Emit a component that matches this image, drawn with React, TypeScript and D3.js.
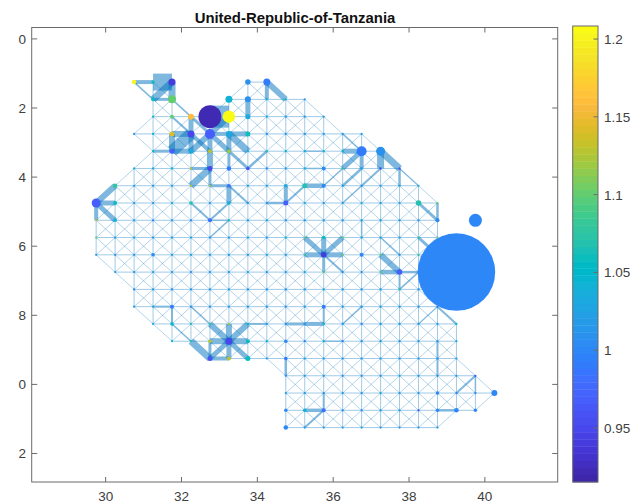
import React from "react";
import * as d3 from "d3";

const titleText = "United-Republic-of-Tanzania";
const xTicks = [30, 32, 34, 36, 38, 40];
const yTicks = [0, 2, 4, 6, 8, 10, 12];
const yTickLabels = ["0", "2", "4", "6", "8", "0", "2"];
const cbTicks = [0.95, 1, 1.05, 1.1, 1.15, 1.2];
const n = null;

const rowLats = [1.25, 1.75, 2.25, 2.75, 3.25, 3.75, 4.25, 4.75, 5.25, 5.75, 6.25, 6.75, 7.25, 7.75, 8.25, 8.75, 9.25, 9.75, 10.25, 10.75, 11.25];
const rowStarts = [30.75, 31.25, 31.25, 30.75, 31.25, 30.75, 30.25, 29.75, 29.75, 29.75, 29.75, 30.25, 30.75, 30.75, 31.25, 31.75, 32.75, 34.75, 34.75, 34.75, 34.75];
const rowValues: (number | null)[][] = [
  [1.2, 1.06, 0.94, n, n, n, 1.01, 0.99],
  [1.06, 1.1, n, n, 1.04, 1.01, 1.04, 1.05, 1.02],
  [1.06, 1.1, 1.16, 0.92, 1.21, 1.03, 1.03, 1.02, 1.02, 1.02],
  [1.01, 1.05, 1.14, 0.95, 0.97, 1.03, 1.06, 1.01, 1.02, 1.02, 1.02, 1.02, 1.02],
  [1.06, 0.97, 1.03, 1.13, 1.12, 1.04, 1.07, 1.05, 1.04, 1.04, 1.05, 0.99, 1.01],
  [1.04, 1.03, 1.05, 1.13, 0.95, 0.99, 0.96, 1.0, 1.02, 1.04, 1.0, 1.08, 1.02, 0.95, 0.96],
  [1.08, 1.02, 1.02, 1.02, 1.13, 1.13, 0.98, 1.02, 1.02, 1.03, 1.07, 1.0, 1.02, 1.02, 1.02, 1.02, 1.03],
  [0.97, 1.06, 1.02, 1.02, 1.04, 1.07, 1.02, 1.04, 1.02, 1.01, 0.97, 1.03, 1.02, 1.02, 1.03, 1.02, 1.03, 1.07, 1.1],
  [1.13, 1.04, 1.02, 1.0, 1.02, 1.0, 0.98, 1.06, 1.02, 1.03, 1.02, 1.02, 1.02, 1.02, 1.02, 1.02, 1.02, 1.01, 1.0, n, 1.0],
  [1.1, 1.02, 1.03, 1.02, 1.02, 1.03, 1.02, 1.02, 1.03, 1.02, 1.05, 1.1, 1.06, 1.1, 1.03, 1.03, 1.03, 1.08, 1.1],
  [1.02, 1.01, 1.02, 1.0, 1.02, 1.03, 1.02, 1.02, 1.02, 1.03, 1.02, 1.08, 0.94, 1.1, 1.0, 1.1, 1.02, 1.08, 1.0, 1.0],
  [1.02, 1.02, 1.03, 1.02, 1.01, 1.02, 1.02, 1.03, 1.02, 1.02, 1.03, 1.1, 1.02, 1.02, 1.1, 0.97, 1.02, 1.0, 1.0],
  [1.0, 1.02, 1.01, 1.02, 1.02, 1.03, 1.02, 1.02, 1.01, 1.02, 1.03, 1.02, 1.02, 1.02, 1.08, 1.02, 1.02, 1.0],
  [1.02, 1.03, 0.99, 1.02, 1.02, 1.02, 1.02, 1.02, 1.01, 1.02, 0.99, 1.02, 1.02, 1.02, 1.02, 1.02, 1.0],
  [1.03, 1.05, 1.07, 1.08, 1.12, 1.06, 1.02, 1.01, 1.01, 1.06, 1.02, 1.0, 1.02, 1.02, 1.02, 1.02, 1.06],
  [1.05, 1.07, 1.13, 0.95, 1.06, 1.05, 1.0, 1.0, 1.04, 1.0, 1.02, 1.02, 1.02, 1.02, 1.02, 1.03],
  [0.96, 1.13, 1.06, 1.02, 0.99, 1.02, 1.02, 1.02, 1.02, 1.02, 1.02, 1.02, 1.01, 1.02],
  [1.0, 1.02, 1.02, 1.02, 1.02, 1.02, 1.03, 1.02, 1.02, 1.02, 0.97],
  [1.02, 1.02, 1.01, 1.02, 1.02, 1.03, 1.02, 1.02, 1.0, 1.0, 1.0, 1.0],
  [1.0, 1.04, 0.98, 1.0, 1.0, 1.02, 1.02, 0.96, 1.0, 1.0, 1.0],
  [1.0, 1.02, 1.02, 1.02, 1.03, 1.02, 1.02, 1.02, 1.02],
];

// [lon, lat, marker diameter] for every node larger than the base size
const nodeSizes: [number, number, number][] = [
  [32.75, 2.25, 23], [33.25, 2.25, 12.5], [39.25, 6.75, 77.5], [39.75, 5.25, 13], [32.75, 2.75, 10], [32.25, 2.75, 7],
  [31.75, 1.25, 7], [31.75, 1.75, 8], [30.75, 1.25, 4.5], [32.25, 2.25, 6], [33.25, 1.75, 7], [33.75, 1.25, 5.5],
  [34.25, 1.25, 7], [33.75, 1.75, 6], [33.75, 2.25, 5], [33.75, 2.75, 5], [33.25, 2.75, 6], [31.75, 2.75, 5],
  [31.75, 3.25, 5], [32.25, 3.25, 5], [32.75, 3.25, 4], [33.25, 3.25, 4], [32.75, 3.75, 5], [33.25, 3.75, 4.5],
  [33.75, 3.75, 3.5], [31.75, 2.25, 4], [31.25, 1.75, 4], [31.25, 1.25, 3.5], [30.25, 4.25, 4.5], [29.75, 4.75, 9],
  [30.25, 4.75, 4], [30.25, 5.25, 3.5], [32.25, 4.75, 3.5], [32.75, 5.25, 4], [33.25, 4.75, 3.5], [33.25, 4.25, 3.5],
  [34.75, 4.75, 5], [35.25, 4.25, 5], [35.75, 4.25, 4], [34.75, 4.25, 3.5], [36.75, 3.25, 10], [37.25, 3.25, 9],
  [38.25, 4.75, 5.5], [38.75, 5.25, 4], [35.75, 3.75, 4], [35.75, 6.25, 5.5], [37.75, 6.75, 5.5], [36.75, 6.25, 4],
  [35.75, 7.75, 4], [33.25, 8.75, 7], [32.75, 9.25, 5], [33.25, 9.25, 4], [33.75, 9.25, 5], [33.75, 8.75, 4],
  [32.75, 8.75, 3.5], [31.75, 7.75, 4], [31.75, 8.25, 3.5], [40.25, 10.25, 6], [38.75, 10.75, 3.5], [39.25, 10.75, 4.5],
  [39.75, 10.75, 3.5], [34.75, 11.25, 4.5], [35.75, 10.75, 4], [34.75, 10.75, 3.5], [35.25, 10.75, 3.5], [31.25, 6.25, 3.5],
  [35.75, 5.75, 3.5], [34.75, 8.75, 3.5], [34.75, 9.25, 3.5], [38.75, 10.25, 3.5],
];

// [lon1, lat1, lon2, lat2, weight] for the heavier edges
const heavyEdges: [number, number, number, number, number][] = [
  [31.25, 1.25, 31.75, 1.25, 17], [30.75, 1.25, 31.25, 1.25, 4], [31.75, 1.25, 31.75, 1.75, 7], [31.25, 1.75, 31.75, 1.25, 7],
  [31.25, 1.75, 31.75, 1.75, 3], [30.75, 1.25, 31.25, 1.75, 1.5], [31.75, 1.75, 32.25, 2.25, 1.5], [31.75, 2.25, 32.25, 2.75, 2],
  [32.25, 2.25, 32.25, 2.75, 5], [32.25, 2.25, 32.75, 2.75, 3], [32.75, 2.25, 33.25, 2.25, 22], [31.75, 2.75, 32.25, 2.75, 6],
  [31.75, 2.75, 31.75, 3.25, 6], [31.75, 3.25, 32.25, 2.75, 12], [31.75, 3.25, 32.25, 3.25, 5], [32.25, 2.75, 32.25, 3.25, 5],
  [31.25, 3.25, 31.75, 3.25, 3], [32.25, 2.75, 32.75, 3.25, 4], [32.25, 3.25, 32.75, 2.75, 6], [32.75, 2.75, 32.75, 3.25, 5],
  [32.75, 2.75, 33.25, 3.25, 5], [33.25, 2.75, 33.75, 3.25, 7], [32.75, 2.75, 33.25, 2.25, 6], [32.75, 2.75, 33.25, 2.75, 4],
  [33.25, 2.75, 33.75, 2.75, 5], [33.25, 2.75, 33.25, 3.25, 5], [33.25, 3.25, 33.25, 3.75, 3], [33.25, 3.25, 33.75, 3.75, 3],
  [32.75, 3.25, 32.75, 3.75, 6], [32.25, 4.25, 32.75, 3.75, 7], [32.25, 3.75, 32.75, 3.75, 3], [32.75, 3.75, 32.75, 4.25, 3],
  [32.75, 4.25, 33.25, 4.25, 3], [33.25, 4.25, 33.25, 4.75, 5], [33.25, 4.25, 33.75, 4.75, 2], [32.25, 4.75, 32.75, 5.25, 2],
  [32.75, 5.25, 33.25, 4.75, 2], [32.75, 5.25, 33.25, 5.25, 1.5], [32.75, 5.75, 33.25, 5.25, 1.5], [33.75, 3.75, 34.25, 3.25, 2.5],
  [33.75, 1.75, 33.75, 2.25, 5], [34.25, 1.25, 34.25, 1.75, 4], [34.25, 1.25, 34.75, 1.75, 6],
  [34.75, 4.25, 34.75, 4.75, 4], [34.25, 4.75, 34.75, 4.75, 2.5], [30.25, 4.25, 29.75, 4.75, 6], [29.75, 4.75, 30.25, 4.75, 5],
  [29.75, 4.75, 29.75, 5.25, 4], [29.75, 4.75, 30.25, 5.25, 5],
  [36.25, 3.25, 36.75, 3.25, 5], [36.25, 3.75, 36.75, 3.25, 5], [36.75, 3.25, 36.75, 3.75, 4], [36.25, 4.25, 36.75, 3.75, 2.5],
  [36.25, 4.75, 36.75, 4.25, 1.5], [36.75, 4.25, 37.25, 3.75, 2], [37.25, 3.25, 37.25, 3.75, 7], [37.25, 3.25, 37.75, 3.75, 7],
  [37.75, 3.75, 37.75, 4.25, 2.5], [37.75, 3.75, 38.25, 4.25, 1.2], [38.25, 4.75, 38.75, 5.25, 3], [38.75, 4.75, 38.75, 5.25, 2.5],
  [35.25, 4.25, 35.75, 4.25, 4.5], [34.75, 4.75, 35.25, 4.25, 2], [35.25, 3.75, 35.75, 3.75, 1.5], [35.25, 3.25, 35.75, 3.25, 1.5],
  [35.75, 4.25, 36.25, 3.75, 1.5], [36.25, 2.75, 36.75, 3.25, 1.5],
  [35.25, 5.75, 35.75, 6.25, 5], [35.75, 5.75, 35.75, 6.25, 5], [35.75, 6.25, 36.25, 5.75, 5], [35.25, 6.25, 35.75, 6.25, 5],
  [35.75, 6.25, 36.25, 6.25, 5], [35.75, 6.25, 35.75, 6.75, 3], [35.75, 6.25, 36.25, 6.75, 2],
  [36.75, 5.25, 36.75, 5.75, 1.5], [37.25, 5.75, 37.75, 6.25, 1.5], [37.25, 6.25, 37.75, 6.75, 6], [37.25, 6.75, 37.75, 6.75, 4.5],
  [37.75, 6.75, 37.75, 7.25, 2], [37.75, 6.75, 38.25, 6.75, 2.5], [37.75, 7.25, 38.25, 6.75, 1.5], [38.25, 5.75, 38.75, 6.25, 3],
  [31.75, 7.75, 31.75, 8.25, 2], [31.25, 7.75, 31.75, 7.75, 2], [32.25, 7.75, 32.75, 8.25, 1.5], [31.75, 8.25, 32.25, 8.75, 1.5],
  [32.75, 8.25, 33.25, 8.75, 6], [33.25, 8.25, 33.25, 8.75, 6], [33.25, 8.75, 33.75, 8.25, 6], [32.75, 8.75, 33.25, 8.75, 6],
  [33.25, 8.75, 33.75, 8.75, 6], [33.25, 8.75, 33.25, 9.25, 5], [32.75, 9.25, 33.25, 8.75, 5], [33.25, 8.75, 33.75, 9.25, 5],
  [32.75, 8.75, 32.75, 9.25, 3], [32.25, 8.75, 32.75, 9.25, 7], [32.75, 9.25, 33.25, 9.25, 4], [33.75, 8.25, 34.25, 8.25, 2],
  [34.75, 9.25, 34.75, 9.75, 2.5],
  [35.75, 7.75, 35.75, 8.25, 2], [34.75, 8.25, 35.25, 8.25, 3], [35.25, 8.25, 35.75, 8.25, 4], [36.25, 8.25, 36.75, 7.75, 1.5],
  [35.75, 8.75, 36.25, 8.75, 1.5], [38.25, 8.25, 38.75, 7.75, 1.2], [38.75, 7.75, 39.25, 8.25, 2], [38.75, 8.75, 38.75, 9.25, 2],
  [38.75, 9.25, 38.75, 9.75, 2], [39.25, 10.25, 39.75, 9.75, 2], [39.75, 9.75, 39.75, 10.25, 1.5], [38.75, 10.75, 39.25, 10.75, 2.5],
  [35.25, 10.75, 35.75, 10.75, 3.5], [35.75, 10.25, 35.75, 10.75, 2], [35.25, 11.25, 35.75, 10.75, 2],
];

const parula: [number, number, number][] = [
  [0.2422, 0.1504, 0.6603], [0.2504, 0.165, 0.7076], [0.2578, 0.1818, 0.7511], [0.2647, 0.1978, 0.7952], [0.2706, 0.2147, 0.8364], [0.2751, 0.2342, 0.871],
  [0.2783, 0.2559, 0.8991], [0.2803, 0.2782, 0.9221], [0.2813, 0.3006, 0.9414], [0.281, 0.3228, 0.9579], [0.2795, 0.3447, 0.9717], [0.276, 0.3667, 0.9829],
  [0.2699, 0.3892, 0.9906], [0.2602, 0.4123, 0.9952], [0.244, 0.4358, 0.9988], [0.2206, 0.4603, 0.9973], [0.1963, 0.4847, 0.9892], [0.1834, 0.5074, 0.9798],
  [0.1786, 0.5289, 0.9682], [0.1764, 0.5499, 0.952], [0.1687, 0.5703, 0.9359], [0.154, 0.5902, 0.9218], [0.146, 0.6091, 0.9079], [0.138, 0.6276, 0.8973],
  [0.1248, 0.6459, 0.8883], [0.1113, 0.6635, 0.8763], [0.0952, 0.6798, 0.8598], [0.0689, 0.6948, 0.8394], [0.0297, 0.7082, 0.8163], [0.0036, 0.7203, 0.7917],
  [0.0067, 0.7312, 0.766], [0.0433, 0.7411, 0.7394], [0.0964, 0.75, 0.712], [0.1408, 0.7584, 0.6842], [0.1717, 0.767, 0.6554], [0.1938, 0.7758, 0.6251],
  [0.2161, 0.7843, 0.5923], [0.247, 0.7918, 0.5567], [0.2906, 0.7973, 0.5188], [0.3406, 0.8008, 0.4789], [0.3909, 0.8029, 0.4354], [0.4456, 0.8024, 0.3909],
  [0.5044, 0.7993, 0.348], [0.5616, 0.7942, 0.3045], [0.6174, 0.7876, 0.2612], [0.672, 0.7793, 0.2227], [0.7242, 0.7698, 0.191], [0.7738, 0.7598, 0.1646],
  [0.8203, 0.7498, 0.1535], [0.8634, 0.7406, 0.1596], [0.9035, 0.733, 0.1774], [0.9393, 0.7288, 0.21], [0.9728, 0.7298, 0.2394], [0.9956, 0.7434, 0.2371],
  [0.997, 0.7659, 0.2199], [0.9952, 0.7893, 0.2028], [0.9892, 0.8136, 0.1885], [0.9786, 0.8386, 0.1766], [0.9676, 0.8639, 0.1643], [0.961, 0.889, 0.1537],
  [0.9597, 0.9135, 0.1423], [0.9628, 0.9373, 0.1265], [0.9691, 0.9606, 0.1064], [0.9769, 0.9839, 0.0805],
];

const W = 632, H = 502;
const axL = 31.7, axR = 557.7, axT = 27.5, axB = 482;
const cbL = 572.7, cbR = 598, cbT = 26, cbB = 482;
const cMin = 0.9153, cMax = 1.2084;
const font = "'Liberation Sans', Arial, Helvetica, sans-serif";
const frameColor = "#6b6b6b";
const textColor = "#404040";
const edgeColor = "#0072BD";

const x = d3.scaleLinear().domain([28.05, 41.92]).range([axL, axR]);
const y = d3.scaleLinear().domain([-0.33, 12.825]).range([axT, axB]);
const cbY = d3.scaleLinear().domain([cMin, cMax]).range([cbB, cbT]);
const cIndex = d3.scaleQuantize<number>().domain([cMin, cMax]).range(d3.range(parula.length));
const colorOf = (v: number) => {
  const [r, g, b] = parula[cIndex(v)];
  return d3.rgb(r * 255, g * 255, b * 255).formatHex();
};

const key = (a: number, b: number) => `${a}_${b}`;

type Node = { lon: number; lat: number; value: number; size: number };
const sizeLookup = new Map(nodeSizes.map(([a, b, s]) => [key(a, b), s]));
const nodes: Node[] = rowLats.flatMap((lat, i) =>
  rowValues[i].flatMap((value, j) => {
    if (value === null) return [];
    const lon = rowStarts[i] + j * 0.5;
    return [{ lon, lat, value, size: sizeLookup.get(key(lon, lat)) ?? 2.2 }];
  })
);
const nodeSet = new Set(nodes.map((d) => key(d.lon, d.lat)));

const edgeKey = (a: number, b: number, c: number, d: number) =>
  a < c || (a === c && b < d) ? `${a}_${b}_${c}_${d}` : `${c}_${d}_${a}_${b}`;
const weightLookup = new Map(heavyEdges.map(([a, b, c, d, w]) => [edgeKey(a, b, c, d), w]));

const steps: [number, number][] = [[0.5, 0], [0, 0.5], [0.5, 0.5], [-0.5, 0.5]];
const edges = nodes.flatMap((d) =>
  steps.flatMap(([dx, dy]) => {
    const lon2 = d.lon + dx, lat2 = d.lat + dy;
    if (!nodeSet.has(key(lon2, lat2))) return [];
    const w = weightLookup.get(edgeKey(d.lon, d.lat, lon2, lat2));
    return [{ lon1: d.lon, lat1: d.lat, lon2, lat2, width: w ?? (dx !== 0 && dy !== 0 ? 0.6 : 0.75) }];
  })
);

const drawOrder = [...nodes].sort((a, b) => d3.ascending(a.size, b.size));

export default function App() {
  const fontSize = 13.5;
  return (
    <svg width={W} height={H} viewBox={`0 0 ${W} ${H}`} style={{ position: "absolute", left: 0, top: 0, display: "block", background: "#fff" }} fontFamily={font}>
      <g>
        {edges.map((e, i) => (
          <line key={i} x1={x(e.lon1)} y1={y(e.lat1)} x2={x(e.lon2)} y2={y(e.lat2)} stroke={edgeColor} strokeOpacity={0.5} strokeWidth={e.width} />
        ))}
      </g>
      <g>
        {drawOrder.map((d, i) => (
          <circle key={i} cx={x(d.lon)} cy={y(d.lat)} r={d.size / 2} fill={colorOf(d.value)} />
        ))}
      </g>
      <rect x={axL} y={axT} width={axR - axL} height={axB - axT} fill="none" stroke={frameColor} strokeWidth={1} />
      {xTicks.map((t) => (
        <g key={t}>
          <line x1={x(t)} x2={x(t)} y1={axT} y2={axT + 5} stroke={frameColor} />
          <line x1={x(t)} x2={x(t)} y1={axB} y2={axB - 5} stroke={frameColor} />
          <text x={x(t)} y={axB + 18.5} textAnchor="middle" fontSize={fontSize} fill={textColor}>{t}</text>
        </g>
      ))}
      {yTicks.map((t, i) => (
        <g key={t}>
          <line x1={axL} x2={axL + 5.5} y1={y(t)} y2={y(t)} stroke={frameColor} />
          <line x1={axR} x2={axR - 5.5} y1={y(t)} y2={y(t)} stroke={frameColor} />
          <text x={26} y={y(t) + 5} textAnchor="end" fontSize={fontSize} fill={textColor}>{yTickLabels[i]}</text>
        </g>
      ))}
      <text x={295} y={22.5} textAnchor="middle" fontSize={14.9} fontWeight="bold" fill="#111">{titleText}</text>
      <g>
        {parula.map((c, i) => {
          const y1 = cbB - ((cbB - cbT) * (i + 1)) / parula.length;
          return <rect key={i} x={cbL} y={y1} width={cbR - cbL} height={(cbB - cbT) / parula.length + 0.4} fill={d3.rgb(c[0] * 255, c[1] * 255, c[2] * 255).formatHex()} />;
        })}
      </g>
      <rect x={cbL} y={cbT} width={cbR - cbL} height={cbB - cbT} fill="none" stroke={frameColor} />
      {cbTicks.map((t) => (
        <g key={t}>
          <line x1={cbR} x2={cbR - 4.5} y1={cbY(t)} y2={cbY(t)} stroke={frameColor} />
          <text x={604} y={cbY(t) + 5} fontSize={fontSize} fill={textColor}>{t}</text>
        </g>
      ))}
    </svg>
  );
}
